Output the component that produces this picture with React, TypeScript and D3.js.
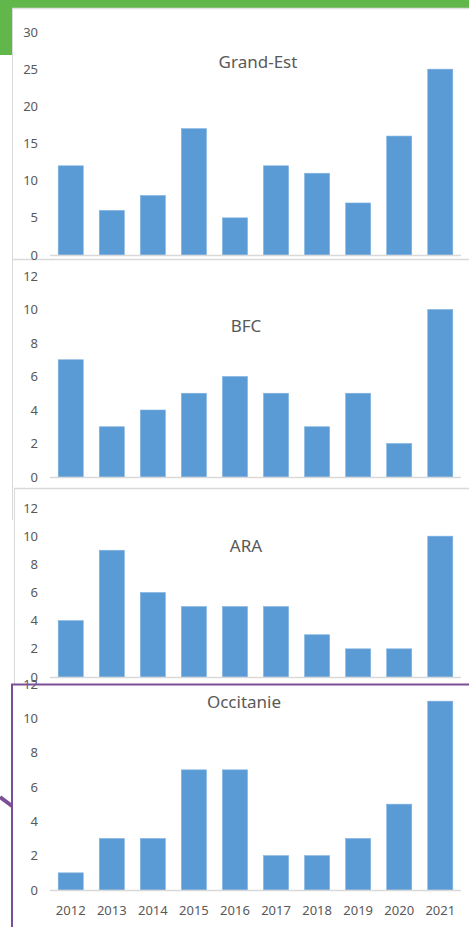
import React from "react";
import * as d3 from "d3";

const years = ["2012", "2013", "2014", "2015", "2016", "2017", "2018", "2019", "2020", "2021"];
const grandEst = [12, 6, 8, 17, 5, 12, 11, 7, 16, 25];
const bfc = [7, 3, 4, 5, 6, 5, 3, 5, 2, 10];
const ara = [4, 9, 6, 5, 5, 5, 3, 2, 2, 10];
const occitanie = [1, 3, 3, 7, 7, 2, 2, 3, 5, 11];
const ticksGE = [0, 5, 10, 15, 20, 25, 30];
const ticksSmall = [0, 2, 4, 6, 8, 10, 12];

const W = 469;
const H = 927;
const FONT = "'Noto Sans', 'Open Sans', sans-serif";
const GREY = "#595959";
const BAR = "#5b9bd5";

interface PanelProps {
  title: string;
  values: number[];
  ticks: number[];
  y0: number;
  yTop: number;
  titleX: number;
  titleY: number;
  showYears?: boolean;
}

const x = d3.scaleBand<string>().domain(years).range([50, 461]).paddingInner(0.39).paddingOuter(0.2);

function Panel({ title, values, ticks, y0, yTop, titleX, titleY, showYears }: PanelProps) {
  const y = d3.scaleLinear().domain([0, d3.max(ticks) as number]).range([y0, yTop]);
  return (
    <g>
      {ticks.map((t) => (
        <text key={t} x={38} y={y(t)} dy="0.35em" textAnchor="end" fontSize={13} fill={GREY} fontFamily={FONT}>
          {t}
        </text>
      ))}
      {values.map((v, i) => (
        <rect key={i} x={x(years[i])} y={y(v)} width={x.bandwidth()} height={y0 - y(v)} fill={BAR} stroke="#7fb2e0" strokeWidth={0.6} />
      ))}
      <line x1={50} x2={461} y1={y0 + 0.5} y2={y0 + 0.5} stroke="#d9d9d9" strokeWidth={1.5} />
      <text x={titleX} y={titleY} dy="0.35em" textAnchor="middle" fontSize={17} fill={GREY} fontFamily={FONT}>
        {title}
      </text>
      {showYears &&
        years.map((yr) => (
          <text key={yr} x={(x(yr) as number) + x.bandwidth() / 2} y={910} dy="0.35em" textAnchor="middle" fontSize={13} fill={GREY} fontFamily={FONT}>
            {yr}
          </text>
        ))}
    </g>
  );
}

export default function App() {
  return (
    <svg width={W} height={H} style={{ position: "absolute", left: 0, top: 0, background: "#fff" }}>
      <rect x={0} y={0} width={W} height={H} fill="#fff" />
      {/* green header */}
      <rect x={0} y={0} width={W} height={8} fill="#62b74b" />
      <rect x={0} y={0} width={12} height={55} fill="#62b74b" />
      <line x1={12} x2={W} y1={8.5} y2={8.5} stroke="#e0e0e0" strokeWidth={1.5} />
      {/* panel frames */}
      <line x1={12.5} x2={12.5} y1={8} y2={520} stroke="#d9d9d9" strokeWidth={1} />
      <line x1={14.5} x2={14.5} y1={488} y2={684} stroke="#d9d9d9" strokeWidth={1} />
      <line x1={12} x2={W} y1={259.5} y2={259.5} stroke="#d9d9d9" strokeWidth={1.5} />
      <line x1={14} x2={W} y1={488.5} y2={488.5} stroke="#d9d9d9" strokeWidth={1.5} />

      <Panel title="Grand-Est" values={grandEst} ticks={ticksGE} y0={255} yTop={32} titleX={258} titleY={62} />
      <Panel title="BFC" values={bfc} ticks={ticksSmall} y0={477} yTop={276} titleX={246} titleY={326} />
      <Panel title="ARA" values={ara} ticks={ticksSmall} y0={677} yTop={508} titleX={246} titleY={546} />
      <Panel title="Occitanie" values={occitanie} ticks={ticksSmall} y0={890} yTop={684} titleX={244} titleY={702} showYears />

      {/* purple frame */}
      <line x1={11} x2={W} y1={684.5} y2={684.5} stroke="#7b4f96" strokeWidth={2} />
      <line x1={12} x2={12} y1={684} y2={H} stroke="#7b4f96" strokeWidth={2} />
      <line x1={0} x2={12} y1={797} y2={806} stroke="#7b4f96" strokeWidth={4} />
    </svg>
  );
}
